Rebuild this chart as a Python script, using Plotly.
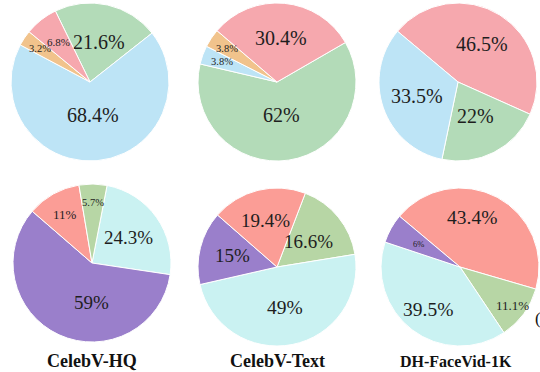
import math
import plotly.graph_objects as go

W, H = 540, 372

# ---- data ----
top_colors = {"blue": "#bde4f6", "green": "#b3dbb8", "pink": "#f6a8ae", "orange": "#f1c38c"}
bot_colors = {"purple": "#9a7fcb", "salmon": "#fb9d96", "green": "#b7d6a5", "cyan": "#caf2f2"}

pie1_vals = [21.6, 68.4, 3.2, 6.8]
pie1_cols = ["green", "blue", "orange", "pink"]

pie2_vals = [62, 3.8, 3.8, 30.4]
pie2_cols = ["green", "blue", "orange", "pink"]

pie3_vals = [46.5, 22, 33.5]
pie3_cols = ["pink", "green", "blue"]

pie4_vals = [24.3, 59, 11, 5.7]
pie4_cols = ["cyan", "purple", "salmon", "green"]

pie5_vals = [16.6, 49, 15, 19.4]
pie5_cols = ["green", "cyan", "purple", "salmon"]

pie6_vals = [43.4, 11.1, 39.5, 6]
pie6_cols = ["salmon", "green", "cyan", "purple"]

titles = ["CelebV-HQ", "CelebV-Text", "DH-FaceVid-1K"]

# ---- styles (label sizes, radial placement, small angular nudges per slice) ----
pie1_sizes, pie1_rad, pie1_nudge = [20, 20, 10.5, 11], [0.52, 0.42, 0.76, 0.65], [0, 0, 0, 0]
pie2_sizes, pie2_rad, pie2_nudge = [20, 10.5, 10.5, 20], [0.42, 0.74, 0.76, 0.56], [0, 0, 0, 0]
pie3_sizes, pie3_rad, pie3_nudge = [20, 20, 20], [0.57, 0.49, 0.55], [0, 0, 0]
pie4_sizes, pie4_rad, pie4_nudge = [19, 19, 13, 10.5], [0.56, 0.5, 0.71, 0.77], [0, -24, 0, 0]
pie5_sizes, pie5_rad, pie5_nudge = [19, 19.5, 19, 19], [0.52, 0.52, 0.58, 0.6], [0, 0, 0, 0]
pie6_sizes, pie6_rad, pie6_nudge = [19.5, 13, 19.5, 8.5], [0.64, 0.83, 0.67, 0.6], [-14, 0, 0, 0]

rotations = [-26, 60, -50, 11, 21, -50]
centres = [(90, 82), (277, 82), (458, 82), (92, 263), (277, 267), (460, 267)]
R = 79
FONT = "Liberation Serif"
TXT = "#1e1e1e"


def fmt(v):
    return ("%g" % v) + "%"


def domain(cx, cy):
    return dict(x=[(cx - R) / W, (cx + R) / W], y=[1 - (cy + R) / H, 1 - (cy - R) / H])


fig = go.Figure()
specs = [
    (pie1_vals, pie1_cols, pie1_sizes, pie1_rad, pie1_nudge, top_colors),
    (pie2_vals, pie2_cols, pie2_sizes, pie2_rad, pie2_nudge, top_colors),
    (pie3_vals, pie3_cols, pie3_sizes, pie3_rad, pie3_nudge, top_colors),
    (pie4_vals, pie4_cols, pie4_sizes, pie4_rad, pie4_nudge, bot_colors),
    (pie5_vals, pie5_cols, pie5_sizes, pie5_rad, pie5_nudge, bot_colors),
    (pie6_vals, pie6_cols, pie6_sizes, pie6_rad, pie6_nudge, bot_colors),
]
for i, (vals, cols, sizes, rads, nudges, palette) in enumerate(specs):
    cx, cy = centres[i]
    fig.add_trace(go.Pie(
        values=vals,
        labels=[f"{c}{j}" for j, c in enumerate(cols)],
        textinfo="none",
        marker=dict(colors=[palette[c] for c in cols], line=dict(color="white", width=1)),
        sort=False,
        direction="clockwise",
        rotation=rotations[i],
        domain=domain(cx, cy),
        showlegend=False,
        hoverinfo="skip",
    ))
    total = sum(vals)
    start = rotations[i]
    for v, s, f, nd in zip(vals, sizes, rads, nudges):
        span = v / total * 360.0
        mid = math.radians(start + span / 2 + nd)
        start += span
        x = cx + f * R * math.sin(mid)
        y = cy - f * R * math.cos(mid)
        fig.add_annotation(text=fmt(v), x=x / W, y=1 - y / H, xref="paper", yref="paper",
                           xanchor="center", yanchor="middle", showarrow=False,
                           font=dict(family=FONT, size=s, color=TXT))

title_x = [92, 277, 456]
title_sizes = [18, 18, 16]
for t, x, s in zip(titles, title_x, title_sizes):
    fig.add_annotation(text=f"<b>{t}</b>", x=x / W, y=1 - 361 / H, xref="paper", yref="paper",
                       xanchor="center", yanchor="middle", showarrow=False,
                       font=dict(family=FONT, size=s, color="#111111"))
fig.add_annotation(text="(", x=533 / W, y=1 - 318 / H, xref="paper", yref="paper",
                   xanchor="left", yanchor="middle", showarrow=False,
                   font=dict(family=FONT, size=17, color="#111111"))

fig.update_layout(width=W, height=H, margin=dict(l=0, r=0, t=0, b=0),
                  paper_bgcolor="white", plot_bgcolor="white",
                  font=dict(family=FONT))
fig.write_html("out.html", post_script="document.body.style.margin='0';",
               config={"displayModeBar": False, "staticPlot": True})
